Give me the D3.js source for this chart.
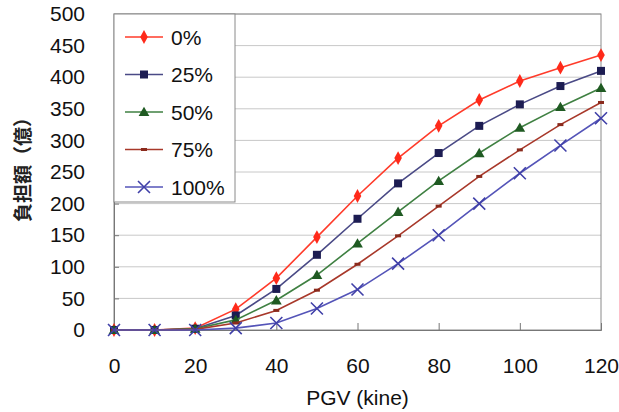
<!DOCTYPE html>
<html><head><meta charset="utf-8">
<script src="https://cdn.jsdelivr.net/npm/d3@7"></script>
<style>body{margin:0;background:#fff}svg{display:block}</style>
</head><body>
<svg id="c" width="619" height="412"></svg>
<script>
const xValues = [0,10,20,30,40,50,60,70,80,90,100,110,120];
const seriesNames = ["0%","25%","50%","75%","100%"];
const s0   = [0,0,3,33,82,147,212,272,323,364,394,415,435];
const s25  = [0,0,2,23,65,119,176,232,280,323,357,386,410];
const s50  = [0,0,2,16,47,87,137,187,236,280,320,353,383];
const s75  = [0,0,1,11,31,63,104,149,196,243,285,325,360];
const s100 = [0,0,0,3,11,34,64,105,150,200,248,292,335];
const xTicks = [0,20,40,60,80,100,120];
const yTicks = [0,50,100,150,200,250,300,350,400,450,500];

const seriesData = [s0,s25,s50,s75,s100];
const lineColors = ["#ff3b2a","#4a4a86","#3f8042","#a8382a","#5454b8"];
const markColors = ["#ff2a1a","#1c1c52","#1f5a22","#8a2a1c","#4040a8"];
const markers = ["diamond","square","triangle","dash","cross"];

const svg = d3.select("#c");
const L=114, R=601, T=14, B=330;
const x = d3.scaleLinear().domain([0,120]).range([L,R]);
const y = d3.scaleLinear().domain([0,500]).range([B,T]);
const font = "'Liberation Sans', Arial, sans-serif";
const fs = 21;

// grid
svg.append("g").selectAll("line").data(yTicks.filter(d=>d>0)).join("line")
  .attr("x1",L).attr("x2",R).attr("y1",d=>y(d)).attr("y2",d=>y(d))
  .attr("stroke","#c8c8c8").attr("stroke-width",1);
// border
svg.append("rect").attr("x",L).attr("y",T).attr("width",R-L).attr("height",B-T)
  .attr("fill","none").attr("stroke","#8a8a8a").attr("stroke-width",1);

// axes
const yAxis = d3.axisLeft(y).tickValues(yTicks).tickSize(-5).tickPadding(29);
const gy = svg.append("g").attr("transform",`translate(${L},0)`).call(yAxis);
gy.select(".domain").attr("stroke","#777");
gy.selectAll(".tick line").attr("stroke","#777");
gy.selectAll("text").attr("font-family",font).attr("font-size",fs).attr("fill","#111");

const xAxis = d3.axisBottom(x).tickValues(xTicks).tickSize(-7).tickPadding(28);
const gx = svg.append("g").attr("transform",`translate(0,${B})`).call(xAxis);
gx.select(".domain").attr("stroke","#777");
gx.selectAll(".tick line").attr("stroke","#777");
gx.selectAll("text").attr("font-family",font).attr("font-size",fs).attr("fill","#111");

svg.append("text").attr("x",(L+R)/2).attr("y",405).attr("text-anchor","middle")
  .attr("font-family",font).attr("font-size",fs).attr("fill","#111").text("PGV (kine)");
svg.append("text").attr("transform",`translate(30,165) rotate(-90)`)
  .attr("text-anchor","middle").attr("font-family","'Noto Sans CJK JP', sans-serif")
  .attr("font-weight","bold").attr("font-size",19).attr("fill","#222").text("負担額（億）");

function drawMarker(g, type, cx, cy, col){
  if(type==="diamond"){
    g.append("path").attr("d",d3.symbol(d3.symbolDiamond,55)()).attr("transform",`translate(${cx},${cy}) scale(0.95,1)`).attr("fill",col);
  } else if(type==="square"){
    g.append("rect").attr("x",cx-4).attr("y",cy-4).attr("width",8).attr("height",8).attr("fill",col);
  } else if(type==="triangle"){
    g.append("path").attr("d",d3.symbol(d3.symbolTriangle,50)()).attr("transform",`translate(${cx},${cy+1})`).attr("fill",col);
  } else if(type==="dash"){
    g.append("rect").attr("x",cx-3).attr("y",cy-1.5).attr("width",6).attr("height",3).attr("fill",col);
  } else if(type==="cross"){
    g.append("path").attr("d",`M${cx-6},${cy-6}L${cx+6},${cy+6}M${cx-6},${cy+6}L${cx+6},${cy-6}`).attr("stroke",col).attr("stroke-width",1.6).attr("fill","none");
  }
}

const line = d3.line().x((d,i)=>x(xValues[i])).y(d=>y(d));
const plot = svg.append("g");
for(let k=0;k<seriesData.length;k++){
  const g = plot.append("g");
  g.append("path").attr("d",line(seriesData[k])).attr("fill","none")
    .attr("stroke",lineColors[k]).attr("stroke-width",1.6);
  seriesData[k].forEach((v,i)=>drawMarker(g,markers[k],x(xValues[i]),y(v),markColors[k]));
}

// legend
const lg = svg.append("g");
lg.append("rect").attr("x",L).attr("y",T).attr("width",121).attr("height",188)
  .attr("fill","#fff").attr("stroke","#8a8a8a").attr("stroke-width",1);
seriesNames.forEach((n,k)=>{
  const cy = 37 + k*37.5;
  lg.append("line").attr("x1",125).attr("x2",163).attr("y1",cy).attr("y2",cy)
    .attr("stroke",lineColors[k]).attr("stroke-width",1.6);
  drawMarker(lg,markers[k],144,cy,markColors[k]);
  lg.append("text").attr("x",171).attr("y",cy+7.5).attr("font-family",font)
    .attr("font-size",fs).attr("fill","#111").text(n);
});
</script>
</body></html>
